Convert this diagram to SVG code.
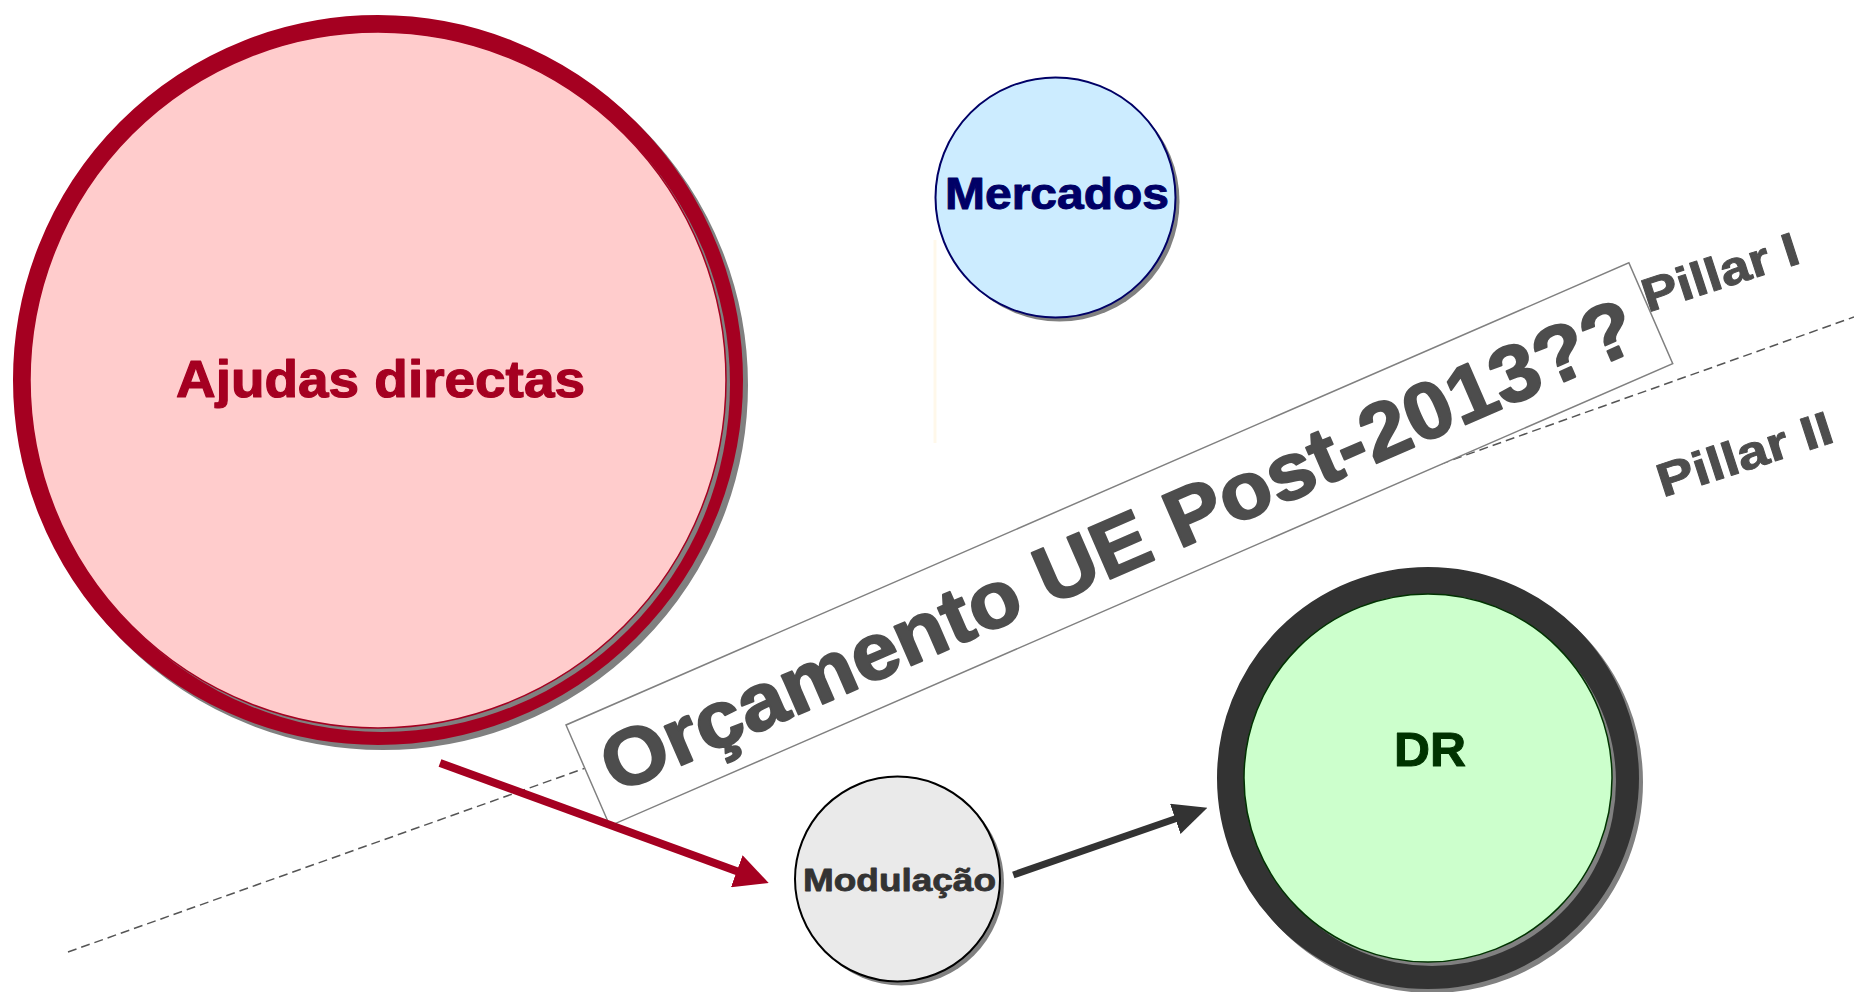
<svg xmlns="http://www.w3.org/2000/svg" width="1854" height="992" viewBox="0 0 1854 992">
  <style>
    .lbl { font-family: "Liberation Sans", Arial, sans-serif; font-weight: bold; stroke-linejoin: round; }
    .shadow { fill: #808080; }
    .ringshadow { fill: none; stroke: #808080; }
  </style>
  <defs>
    <marker id="arrRed" viewBox="0 0 34 34" refX="1" refY="17" markerWidth="34" markerHeight="34" markerUnits="userSpaceOnUse" orient="auto">
      <path d="M0,0 L34,17 L0,34 Z" fill="#A50021"/>
    </marker>
    <marker id="arrDark" viewBox="0 0 34 32" refX="1" refY="16" markerWidth="34" markerHeight="32" markerUnits="userSpaceOnUse" orient="auto">
      <path d="M0,0 L34,16 L0,32 Z" fill="#333333"/>
    </marker>
  </defs>
  <rect width="1854" height="992" fill="#FFFFFF"/>

  <g id="pillar-divider">
    <line x1="68" y1="952" x2="1854" y2="317" stroke="#555555" stroke-width="1.5" stroke-dasharray="9,5"/>
  </g>

  <g id="ajudas-directas">
    <circle cx="383" cy="385" r="356.5" class="ringshadow" stroke-width="17"/>
    <circle cx="378" cy="380" r="356.5" fill="none" stroke="#A50021" stroke-width="17"/>
    <circle cx="382" cy="384" r="348" class="shadow"/>
    <circle cx="378" cy="380" r="348" fill="#FFCCCC" stroke="#A50021" stroke-width="1.5"/>
    <text class="lbl" x="176" y="397" font-size="52" fill="#A50021" stroke="#A50021" stroke-width="1.2" textLength="409" lengthAdjust="spacingAndGlyphs">Ajudas directas</text>
  </g>

  <g id="faint-line">
    <line x1="935" y1="240" x2="935" y2="443" stroke="#FFF8EA" stroke-width="3"/>
  </g>

  <g id="mercados">
    <circle cx="1059.5" cy="201.5" r="120" class="shadow"/>
    <circle cx="1055.5" cy="197.5" r="120" fill="#CCECFF" stroke="#000066" stroke-width="2"/>
    <text class="lbl" x="945" y="209" font-size="45" fill="#000066" stroke="#000066" stroke-width="1" textLength="224" lengthAdjust="spacingAndGlyphs">Mercados</text>
  </g>

  <g id="orcamento" transform="translate(566,725) rotate(-23.5)">
    <rect x="0" y="0" width="1159" height="110" fill="#FFFFFF" stroke="#808080" stroke-width="1.5"/>
    <text class="lbl" x="18" y="83" font-size="80" fill="#4D4D4D" stroke="#4D4D4D" stroke-width="2" textLength="1120" lengthAdjust="spacingAndGlyphs">Orçamento UE Post-2013??</text>
  </g>

  <g id="pillar-1" transform="translate(1650,312) rotate(-18)">
    <text class="lbl" x="-2" y="0" font-size="47" fill="#4D4D4D" stroke="#4D4D4D" stroke-width="1" textLength="162" lengthAdjust="spacingAndGlyphs">Pillar I</text>
  </g>

  <g id="pillar-2" transform="translate(1665,497) rotate(-18)">
    <text class="lbl" x="-2" y="0" font-size="47" fill="#4D4D4D" stroke="#4D4D4D" stroke-width="1" textLength="182" lengthAdjust="spacingAndGlyphs">Pillar II</text>
  </g>

  <g id="modulacao">
    <circle cx="901.5" cy="883" r="102.5" class="shadow"/>
    <circle cx="897.5" cy="879" r="102.5" fill="#EAEAEA" stroke="#000000" stroke-width="2"/>
    <text class="lbl" x="803" y="891" font-size="31" fill="#333333" stroke="#333333" stroke-width="0.8" textLength="193" lengthAdjust="spacingAndGlyphs">Modulação</text>
  </g>

  <g id="dr">
    <circle cx="1432" cy="782" r="197.5" class="ringshadow" stroke-width="27"/>
    <circle cx="1428" cy="778" r="197.5" fill="none" stroke="#333333" stroke-width="27"/>
    <circle cx="1432" cy="782" r="184" class="shadow"/>
    <circle cx="1428" cy="778" r="184" fill="#CCFFCC" stroke="#003300" stroke-width="1.5"/>
    <text class="lbl" x="1394" y="766" font-size="48" fill="#003300" stroke="#003300" stroke-width="1" textLength="72" lengthAdjust="spacingAndGlyphs">DR</text>
  </g>

  <g id="connectors">
    <line x1="440" y1="763" x2="737.7" y2="871.6" stroke="#A50021" stroke-width="8" marker-end="url(#arrRed)"/>
    <line x1="1013.3" y1="875" x2="1176.2" y2="818.5" stroke="#333333" stroke-width="7" marker-end="url(#arrDark)"/>
  </g>
</svg>
